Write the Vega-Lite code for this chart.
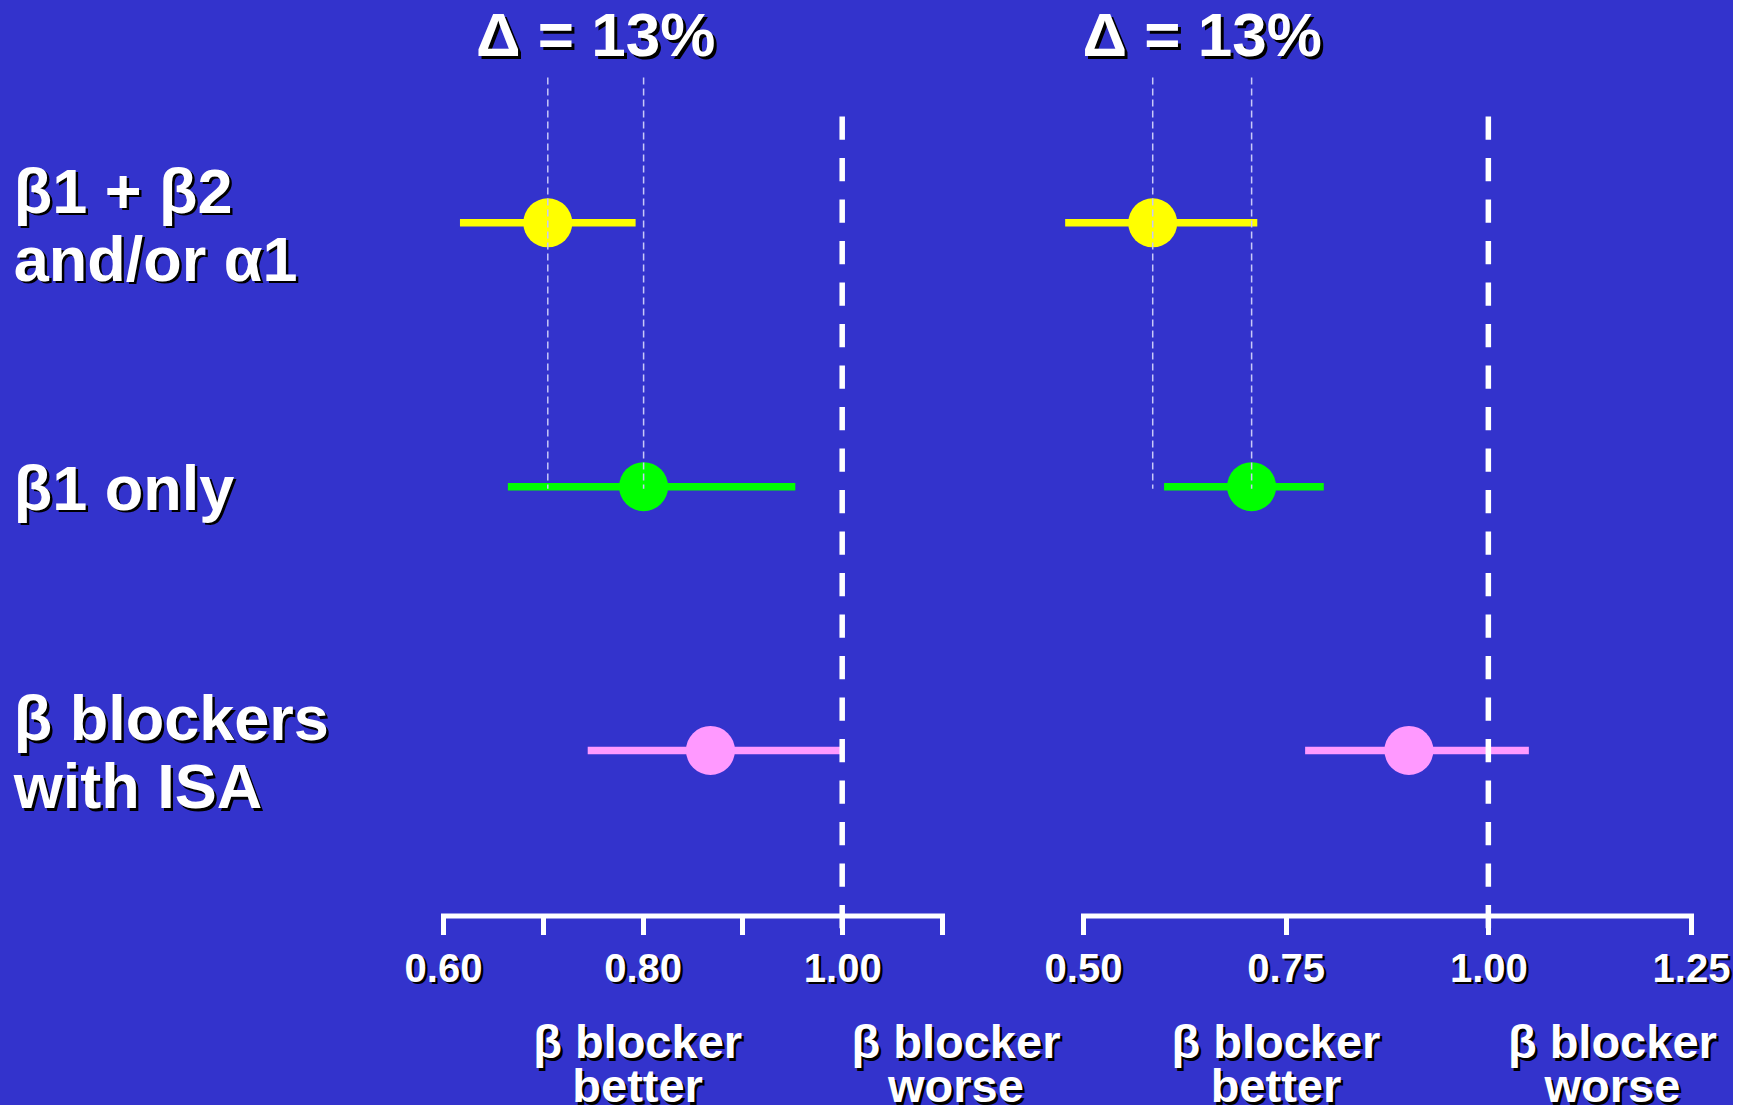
{
  "$schema": "https://vega.github.io/schema/vega-lite/v6.json",
  "background": "#3333cc",
  "autosize": {"type": "pad"},
  "padding": {"left": 13, "top": 5.5, "right": 0, "bottom": 0},
  "config": {"view": {"stroke": null}, "font": "Liberation Sans"},
  "datasets": {
    "est": [
      {"panel": "left", "group": "β1 + β2\nand/or α1", "est": 0.705, "lo": 0.617, "hi": 0.793},
      {"panel": "left", "group": "β1 only", "est": 0.801, "lo": 0.665, "hi": 0.953},
      {"panel": "left", "group": "β blockers\nwith ISA", "est": 0.868, "lo": 0.745, "hi": 0.998},
      {"panel": "right", "group": "β1 + β2\nand/or α1", "est": 0.586, "lo": 0.478, "hi": 0.715},
      {"panel": "right", "group": "β1 only", "est": 0.708, "lo": 0.600, "hi": 0.797},
      {"panel": "right", "group": "β blockers\nwith ISA", "est": 0.902, "lo": 0.774, "hi": 1.050}
    ],
    "ref": [
      {"panel": "left", "value": 1.0},
      {"panel": "right", "value": 1.0}
    ],
    "delta": [
      {"panel": "left", "x": 0.753, "label": "Δ = 13%"},
      {"panel": "right", "x": 0.647, "label": "Δ = 13%"}
    ],
    "notes": [
      {"panel": "left", "x": 0.795, "label": "β blocker\nbetter"},
      {"panel": "left", "x": 1.114, "label": "β blocker\nworse"},
      {"panel": "right", "x": 0.738, "label": "β blocker\nbetter"},
      {"panel": "right", "x": 1.153, "label": "β blocker\nworse"}
    ]
  },
  "hconcat": [
    {
      "width": 499,
      "height": 812,
      "resolve": {"axis": {"x": "independent", "y": "independent"}},
      "layer": [
        {
          "data": {"name": "est"},
          "transform": [{"filter": "datum.panel == 'left'"}],
          "mark": {"type": "rule", "strokeWidth": 7.5, "strokeCap": "butt"},
          "encoding": {
            "x": {"field": "lo", "type": "quantitative", "scale": {"domain": [0.6, 1.1], "nice": false, "zero": false},
              "axis": {"orient": "bottom", "offset": -13, "title": null, "values": [0.6, 0.7, 0.8, 0.9, 1.0, 1.1], "domain": false, "ticks": true, "tickOpacity": 0, "tickSize": 19, "grid": false, "labelColor": "black", "labelFont": "Liberation Sans", "labelFontSize": 40, "labelFontWeight": "bold", "labelPadding": 17.1, "labelOffset": 2.5, "labelFlush": false, "labelOverlap": false, "labelBaseline": "top", "labelExpr": "datum.value == 0.7 || datum.value == 0.9 || datum.value == 1.1 ? '' : format(datum.value, '.2f')", "zindex": 0}},
            "x2": {"field": "hi"},
            "y": {"field": "group", "type": "nominal", "scale": {"type": "point", "domain": ["β1 + β2\nand/or α1", "β1 only", "β blockers\nwith ISA"], "padding": 0.5388, "align": 0.3739},
              "axis": {"orient": "left", "title": null, "domain": false, "ticks": false, "tickSize": 0, "grid": false, "labelPadding": 427.2, "labelAlign": "left", "labelBaseline": "middle", "labelFont": "Liberation Sans", "labelFontSize": 63, "labelFontWeight": "bold", "labelColor": "black", "labelLimit": 1000, "labelLineHeight": 68, "labelOverlap": false, "labelExpr": "split(datum.label, '\\n')", "labelOffset": {"condition": {"test": "indexof(datum.value, '\\n') >= 0", "value": -27.1}, "value": 6}, "zindex": 0}},
            "color": {"field": "group", "type": "nominal", "scale": {"domain": ["β1 + β2\nand/or α1", "β1 only", "β blockers\nwith ISA"], "range": ["#ffff00", "#00ff00", "#ff99ff"]}, "legend": null}
          }
        },
        {
          "data": {"name": "est"},
          "transform": [{"filter": "datum.panel == 'left'"}],
          "mark": {"type": "circle", "size": 2401, "opacity": 1},
          "encoding": {
            "x": {"field": "est", "type": "quantitative", "scale": {"domain": [0.6, 1.1], "nice": false, "zero": false},
              "axis": {"orient": "bottom", "offset": -13, "title": null, "values": [0.6, 0.7, 0.8, 0.9, 1.0, 1.1], "domain": true, "domainColor": "white", "domainWidth": 5, "domainCap": "square", "ticks": true, "tickColor": "white", "tickWidth": 5, "tickSize": 19, "tickCap": "butt", "grid": false, "labelColor": "white", "labelFont": "Liberation Sans", "labelFontSize": 40, "labelFontWeight": "bold", "labelPadding": 14.6, "labelFlush": false, "labelOverlap": false, "labelBaseline": "top", "labelExpr": "datum.value == 0.7 || datum.value == 0.9 || datum.value == 1.1 ? '' : format(datum.value, '.2f')", "zindex": 1}},
            "y": {"field": "group", "type": "nominal", "scale": {"type": "point", "domain": ["β1 + β2\nand/or α1", "β1 only", "β blockers\nwith ISA"], "padding": 0.5388, "align": 0.3739},
              "axis": {"orient": "left", "title": null, "domain": false, "ticks": false, "tickSize": 0, "grid": false, "labelPadding": 429.7, "labelAlign": "left", "labelBaseline": "middle", "labelFont": "Liberation Sans", "labelFontSize": 63, "labelFontWeight": "bold", "labelColor": "white", "labelLimit": 1000, "labelLineHeight": 68, "labelOverlap": false, "labelExpr": "split(datum.label, '\\n')", "labelOffset": {"condition": {"test": "indexof(datum.value, '\\n') >= 0", "value": -29.6}, "value": 3.5}, "zindex": 1}},
            "color": {"field": "group", "type": "nominal", "scale": {"domain": ["β1 + β2\nand/or α1", "β1 only", "β blockers\nwith ISA"], "range": ["#ffff00", "#00ff00", "#ff99ff"]}, "legend": null}
          }
        },
        {
          "data": {"name": "ref"},
          "transform": [{"filter": "datum.panel == 'left'"}],
          "mark": {"type": "rule", "color": "white", "strokeWidth": 5.5, "strokeDash": [23.3, 18.2], "strokeCap": "butt"},
          "encoding": {
            "x": {"field": "value", "type": "quantitative", "scale": {"domain": [0.6, 1.1], "nice": false, "zero": false}, "axis": null}
          }
        },
        {
          "data": {"name": "est"},
          "transform": [{"filter": "datum.panel == 'left' && indexof(datum.group, 'ISA') < 0"}],
          "mark": {"type": "rule", "color": "#c8c8f8", "strokeWidth": 1.5, "strokeDash": [7, 4], "yOffset": -145.3, "y2Offset": 2},
          "encoding": {
            "x": {"field": "est", "type": "quantitative", "scale": {"domain": [0.6, 1.1], "nice": false, "zero": false}, "axis": null},
            "y": {"datum": "β1 + β2\nand/or α1", "type": "nominal", "axis": null},
            "y2": {"datum": "β1 only"}
          }
        },
        {
          "data": {"name": "delta"},
          "transform": [{"filter": "datum.panel == 'left'"}],
          "mark": {"type": "text", "font": "Liberation Sans", "fontSize": 62, "fontWeight": "bold", "color": "black", "align": "center", "baseline": "alphabetic", "dx": 3, "dy": -163.8},
          "encoding": {
            "x": {"field": "x", "type": "quantitative", "scale": {"domain": [0.6, 1.1], "nice": false, "zero": false}, "axis": null},
            "y": {"datum": "β1 + β2\nand/or α1", "type": "nominal", "axis": null},
            "text": {"field": "label", "type": "nominal"}
          }
        },
        {
          "data": {"name": "delta"},
          "transform": [{"filter": "datum.panel == 'left'"}],
          "mark": {"type": "text", "font": "Liberation Sans", "fontSize": 62, "fontWeight": "bold", "color": "white", "align": "center", "baseline": "alphabetic", "dy": -166.8},
          "encoding": {
            "x": {"field": "x", "type": "quantitative", "scale": {"domain": [0.6, 1.1], "nice": false, "zero": false}, "axis": null},
            "y": {"datum": "β1 + β2\nand/or α1", "type": "nominal", "axis": null},
            "text": {"field": "label", "type": "nominal"}
          }
        },
        {
          "data": {"name": "notes"},
          "transform": [{"filter": "datum.panel == 'left'"}],
          "mark": {"type": "text", "font": "Liberation Sans", "fontSize": 47, "fontWeight": "bold", "color": "black", "align": "center", "baseline": "alphabetic", "lineBreak": "\n", "lineHeight": 44, "dx": 2.5, "dy": 310.4},
          "encoding": {
            "x": {"field": "x", "type": "quantitative", "scale": {"domain": [0.6, 1.1], "nice": false, "zero": false}, "axis": null},
            "y": {"datum": "β blockers\nwith ISA", "type": "nominal", "axis": null},
            "text": {"field": "label", "type": "nominal"}
          }
        },
        {
          "data": {"name": "notes"},
          "transform": [{"filter": "datum.panel == 'left'"}],
          "mark": {"type": "text", "font": "Liberation Sans", "fontSize": 47, "fontWeight": "bold", "color": "white", "align": "center", "baseline": "alphabetic", "lineBreak": "\n", "lineHeight": 44, "dy": 307.9},
          "encoding": {
            "x": {"field": "x", "type": "quantitative", "scale": {"domain": [0.6, 1.1], "nice": false, "zero": false}, "axis": null},
            "y": {"datum": "β blockers\nwith ISA", "type": "nominal", "axis": null},
            "text": {"field": "label", "type": "nominal"}
          }
        }
      ]
    },
    {
      "width": 608,
      "height": 812,
      "resolve": {"axis": {"x": "independent", "y": "independent"}},
      "layer": [
        {
          "data": {"name": "est"},
          "transform": [{"filter": "datum.panel == 'right'"}],
          "mark": {"type": "rule", "strokeWidth": 7.5, "strokeCap": "butt"},
          "encoding": {
            "x": {"field": "lo", "type": "quantitative", "scale": {"domain": [0.5, 1.25], "nice": false, "zero": false},
              "axis": {"orient": "bottom", "offset": -13, "title": null, "values": [0.5, 0.75, 1.0, 1.25], "domain": false, "ticks": true, "tickOpacity": 0, "tickSize": 19, "grid": false, "labelColor": "black", "labelFont": "Liberation Sans", "labelFontSize": 40, "labelFontWeight": "bold", "labelPadding": 17.1, "labelOffset": 2.5, "labelFlush": false, "labelOverlap": false, "labelBaseline": "top", "labelExpr": "format(datum.value, '.2f')", "zindex": 0}},
            "x2": {"field": "hi"},
            "y": {"field": "group", "type": "nominal", "scale": {"type": "point", "domain": ["β1 + β2\nand/or α1", "β1 only", "β blockers\nwith ISA"], "padding": 0.5388, "align": 0.3739}, "axis": null},
            "color": {"field": "group", "type": "nominal", "scale": {"domain": ["β1 + β2\nand/or α1", "β1 only", "β blockers\nwith ISA"], "range": ["#ffff00", "#00ff00", "#ff99ff"]}, "legend": null}
          }
        },
        {
          "data": {"name": "est"},
          "transform": [{"filter": "datum.panel == 'right'"}],
          "mark": {"type": "circle", "size": 2401, "opacity": 1},
          "encoding": {
            "x": {"field": "est", "type": "quantitative", "scale": {"domain": [0.5, 1.25], "nice": false, "zero": false},
              "axis": {"orient": "bottom", "offset": -13, "title": null, "values": [0.5, 0.75, 1.0, 1.25], "domain": true, "domainColor": "white", "domainWidth": 5, "domainCap": "square", "ticks": true, "tickColor": "white", "tickWidth": 5, "tickSize": 19, "tickCap": "butt", "grid": false, "labelColor": "white", "labelFont": "Liberation Sans", "labelFontSize": 40, "labelFontWeight": "bold", "labelPadding": 14.6, "labelFlush": false, "labelOverlap": false, "labelBaseline": "top", "labelExpr": "format(datum.value, '.2f')", "zindex": 1}},
            "y": {"field": "group", "type": "nominal", "scale": {"type": "point", "domain": ["β1 + β2\nand/or α1", "β1 only", "β blockers\nwith ISA"], "padding": 0.5388, "align": 0.3739}, "axis": null},
            "color": {"field": "group", "type": "nominal", "scale": {"domain": ["β1 + β2\nand/or α1", "β1 only", "β blockers\nwith ISA"], "range": ["#ffff00", "#00ff00", "#ff99ff"]}, "legend": null}
          }
        },
        {
          "data": {"name": "ref"},
          "transform": [{"filter": "datum.panel == 'right'"}],
          "mark": {"type": "rule", "color": "white", "strokeWidth": 5.5, "strokeDash": [23.3, 18.2], "strokeCap": "butt"},
          "encoding": {
            "x": {"field": "value", "type": "quantitative", "scale": {"domain": [0.5, 1.25], "nice": false, "zero": false}, "axis": null}
          }
        },
        {
          "data": {"name": "est"},
          "transform": [{"filter": "datum.panel == 'right' && indexof(datum.group, 'ISA') < 0"}],
          "mark": {"type": "rule", "color": "#c8c8f8", "strokeWidth": 1.5, "strokeDash": [7, 4], "yOffset": -145.3, "y2Offset": 2},
          "encoding": {
            "x": {"field": "est", "type": "quantitative", "scale": {"domain": [0.5, 1.25], "nice": false, "zero": false}, "axis": null},
            "y": {"datum": "β1 + β2\nand/or α1", "type": "nominal", "axis": null},
            "y2": {"datum": "β1 only"}
          }
        },
        {
          "data": {"name": "delta"},
          "transform": [{"filter": "datum.panel == 'right'"}],
          "mark": {"type": "text", "font": "Liberation Sans", "fontSize": 62, "fontWeight": "bold", "color": "black", "align": "center", "baseline": "alphabetic", "dx": 3, "dy": -163.8},
          "encoding": {
            "x": {"field": "x", "type": "quantitative", "scale": {"domain": [0.5, 1.25], "nice": false, "zero": false}, "axis": null},
            "y": {"datum": "β1 + β2\nand/or α1", "type": "nominal", "axis": null},
            "text": {"field": "label", "type": "nominal"}
          }
        },
        {
          "data": {"name": "delta"},
          "transform": [{"filter": "datum.panel == 'right'"}],
          "mark": {"type": "text", "font": "Liberation Sans", "fontSize": 62, "fontWeight": "bold", "color": "white", "align": "center", "baseline": "alphabetic", "dy": -166.8},
          "encoding": {
            "x": {"field": "x", "type": "quantitative", "scale": {"domain": [0.5, 1.25], "nice": false, "zero": false}, "axis": null},
            "y": {"datum": "β1 + β2\nand/or α1", "type": "nominal", "axis": null},
            "text": {"field": "label", "type": "nominal"}
          }
        },
        {
          "data": {"name": "notes"},
          "transform": [{"filter": "datum.panel == 'right'"}],
          "mark": {"type": "text", "font": "Liberation Sans", "fontSize": 47, "fontWeight": "bold", "color": "black", "align": "center", "baseline": "alphabetic", "lineBreak": "\n", "lineHeight": 44, "dx": 2.5, "dy": 310.4},
          "encoding": {
            "x": {"field": "x", "type": "quantitative", "scale": {"domain": [0.5, 1.25], "nice": false, "zero": false}, "axis": null},
            "y": {"datum": "β blockers\nwith ISA", "type": "nominal", "axis": null},
            "text": {"field": "label", "type": "nominal"}
          }
        },
        {
          "data": {"name": "notes"},
          "transform": [{"filter": "datum.panel == 'right'"}],
          "mark": {"type": "text", "font": "Liberation Sans", "fontSize": 47, "fontWeight": "bold", "color": "white", "align": "center", "baseline": "alphabetic", "lineBreak": "\n", "lineHeight": 44, "dy": 307.9},
          "encoding": {
            "x": {"field": "x", "type": "quantitative", "scale": {"domain": [0.5, 1.25], "nice": false, "zero": false}, "axis": null},
            "y": {"datum": "β blockers\nwith ISA", "type": "nominal", "axis": null},
            "text": {"field": "label", "type": "nominal"}
          }
        }
      ]
    }
  ],
  "spacing": 141,
  "bounds": "flush"
}
